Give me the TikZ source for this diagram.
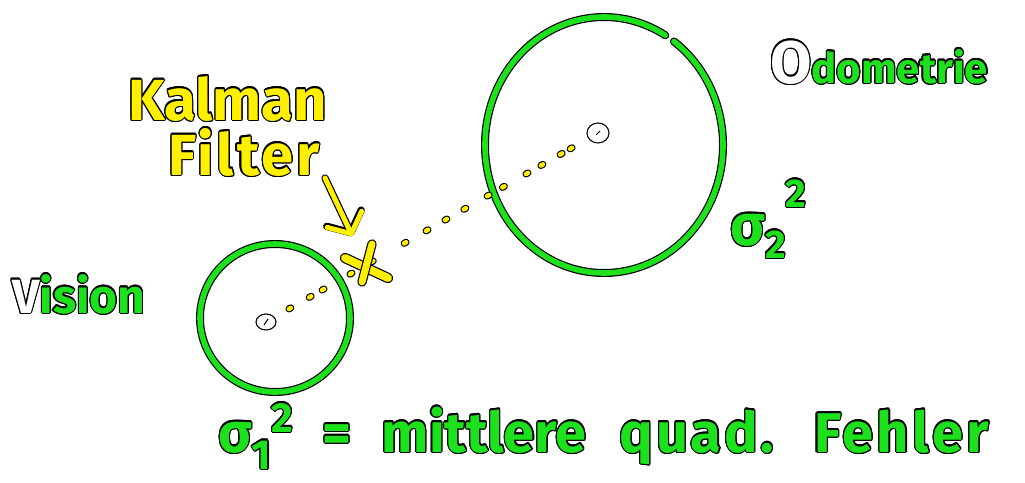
\documentclass[tikz,border=0pt]{standalone}
\usepackage{fontspec}
\setmainfont{Fira Sans}
\usepackage{contour}
\usetikzlibrary{arrows.meta,positioning,calc}
\definecolor{kgreen}{RGB}{30,225,30}
\definecolor{kyellow}{RGB}{255,240,0}
\contourlength{1.1pt}
\newcommand\inked[2]{\textcolor{#1}{\contour{black}{#2}}}
\newcommand\spaced[2]{{\addfontfeatures{LetterSpace=#1}#2}}
\tikzset{
  gpen/.style={draw=black,line width=1.2pt,double=kgreen,double distance=5.6pt,line cap=round},
  ypen/.style={draw=black,line width=1.2pt,double=kyellow,double distance=4.6pt,line cap=round},
  hand/.style={anchor=base west,inner sep=0pt,font=\bfseries\fontsize{#1pt}{#1pt}\selectfont},
}

\begin{document}
\begin{tikzpicture}[x=1pt,y=-1pt]
 \useasboundingbox (0,0) rectangle (1025,482);
 \coordinate (vis) at (266,322);
 \coordinate (odo) at (598,133);
 \coordinate (kx) at (366,265);
 \coordinate (arr) at (325,178);
 \draw[gpen] (275,318) ellipse [x radius=75,y radius=74];
 \draw[gpen] (604,145) ++(-54:119 and 128)
   arc [start angle=-54,delta angle=355,x radius=119,y radius=128];
 \foreach \t in {0.072,0.133,0.172,0.256,0.32,0.419,0.485,0.542,0.599,0.669,0.715,0.786,0.831,0.889,0.919}
   {\draw[ypen,double distance=4.6pt] ($(vis)!\t-0.003!(odo)$) -- ($(vis)!\t+0.003!(odo)$);}
 \draw[line width=1.1pt,fill=white] (vis) ellipse [x radius=10,y radius=8];
 \draw[line width=1pt] ($(vis)+(-2,3)$) -- ($(vis)+(2,-3)$);
 \draw[line width=1.1pt,fill=white] (odo) ellipse [x radius=11,y radius=10];
 \draw[line width=1pt] ($(odo)+(-2,2)$) -- ($(odo)+(2,-2)$);
 \draw[ypen,double distance=8pt] ($(kx)+(-21,-7)$) -- ($(kx)+(22,13)$);
 \draw[ypen,double distance=7pt] ($(kx)+(6,-21)$) -- ($(kx)+(-4,17)$);
 \draw[black,line width=7.4pt,line cap=round,shorten >=32pt,
   -{Straight Barb[length=16pt,width=38pt,line cap=round,line join=round]}] (arr) -- (kx);
 \draw[kyellow,line width=5pt,line cap=round,shorten >=32pt,
   -{Straight Barb[length=16pt,width=38pt,line cap=round,line join=round]}] (arr) -- (kx);
 \node[hand=58] (kal) at (128,120) {\inked{kyellow}{Kalman}};
 \node[hand=58] (filt) at (168,175) {\inked{kyellow}{\spaced{5}{Filter}}};
 \node[hand=48] (vtxt) at (12,313) {\inked{white}{V}\inked{kgreen}{ision}};
 \node[hand=42] (otxt) at (770,83)
   {\inked{white}{\fontsize{60pt}{60pt}\selectfont O}\inked{kgreen}{dometrie}};
 \node[hand=58] (sig2) at (730,245)
   {\inked{kgreen}{σ{\fontsize{40pt}{40pt}\selectfont\raisebox{-13pt}{2}\raisebox{38pt}{2}}}};
 \node[hand=56] (mqf) at (218,452)
   {\inked{kgreen}{σ{\fontsize{42pt}{42pt}\selectfont\raisebox{-17pt}{1}\raisebox{20pt}{2}}\hspace{16pt} =\hspace{17pt} mittlere\hspace{20pt} \spaced{5}{quad.}\hspace{22pt} \spaced{6}{Fehler}}};
\end{tikzpicture}
\end{document}
